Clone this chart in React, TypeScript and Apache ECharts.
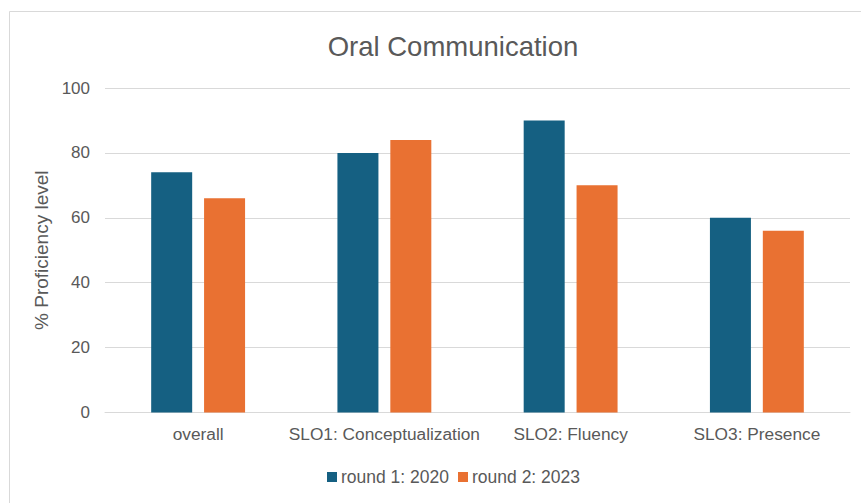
import React, { useEffect, useRef } from "react";
import * as echarts from "echarts";

const categories = ["overall", "SLO1: Conceptualization", "SLO2: Fluency", "SLO3: Presence"];
const round1 = [74, 80, 90, 60];
const round2 = [66, 84, 70, 56];
const seriesNames = ["round 1: 2020", "round 2: 2023"];
const yTicks = { min: 0, max: 100, interval: 20 };

const FONT = "'Liberation Sans', Arial, Helvetica, sans-serif";
const TEXT = "#595959";

export default function App() {
  const ref = useRef<HTMLDivElement>(null);
  useEffect(() => {
    if (!ref.current) return;
    const chart = echarts.init(ref.current, undefined, { renderer: "svg" });
    chart.setOption({
      animation: false,
      backgroundColor: "#ffffff",
      textStyle: { fontFamily: FONT },
      title: {
        text: "Oral Communication",
        left: 448,
        textAlign: "center",
        top: 27,
        textStyle: { fontFamily: FONT, fontSize: 27.5, fontWeight: "normal", color: TEXT },
      },
      graphic: [
        {
          type: "rect",
          shape: { x: 9.5, y: 11.5, width: 1000, height: 1000 },
          style: { fill: "none", stroke: "#d9d9d9", lineWidth: 1 },
          silent: true,
        },
      ],
      legend: {
        data: seriesNames,
        left: 322,
        top: 463,
        itemWidth: 10,
        itemHeight: 10,
        itemGap: 9,
        icon: "rect",
        textStyle: { fontFamily: FONT, fontSize: 17.5, color: TEXT, padding: [0, 0, 0, -1] },
      },
      grid: { left: 105, right: 11, top: 88, bottom: 90.5, containLabel: false },
      xAxis: {
        type: "category",
        data: categories,
        axisLine: { lineStyle: { color: "#d9d9d9", width: 1 } },
        axisTick: { show: false },
        axisLabel: { fontFamily: FONT, fontSize: 17.3, color: TEXT, margin: 13, interval: 0 },
      },
      yAxis: {
        type: "value",
        min: yTicks.min,
        max: yTicks.max,
        interval: yTicks.interval,
        name: "% Proficiency level",
        nameLocation: "middle",
        nameGap: 47,
        nameTextStyle: { fontFamily: FONT, fontSize: 19, color: TEXT },
        axisLine: { show: false },
        axisTick: { show: false },
        splitLine: { lineStyle: { color: "#d9d9d9", width: 1 } },
        axisLabel: { fontFamily: FONT, fontSize: 17, color: TEXT, margin: 15 },
      },
      series: [
        {
          name: seriesNames[0],
          type: "bar",
          data: round1,
          barWidth: 41,
          barGap: "29%",
          itemStyle: { color: "#156082" },
        },
        {
          name: seriesNames[1],
          type: "bar",
          data: round2,
          barWidth: 41,
          itemStyle: { color: "#E97132" },
        },
      ],
    });
    return () => chart.dispose();
  }, []);
  return (
    <div
      ref={ref}
      style={{ position: "fixed", left: 0, top: 0, width: 861, height: 503 }}
    />
  );
}
